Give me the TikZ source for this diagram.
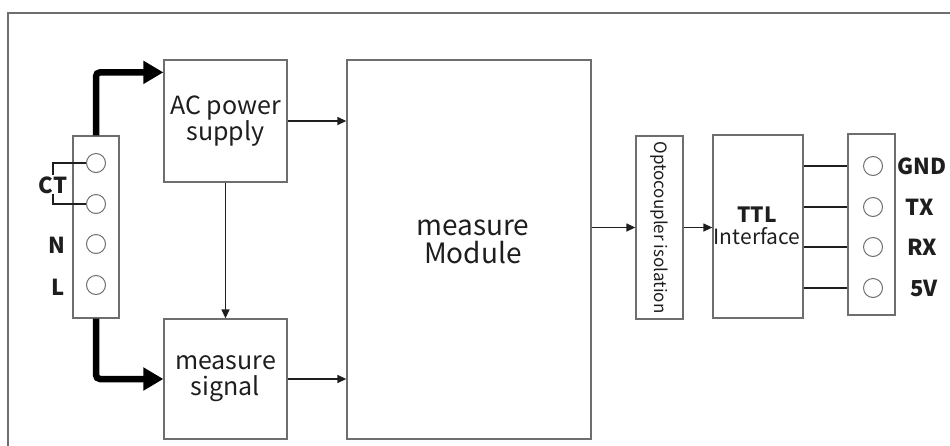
\documentclass[tikz,border=0pt]{standalone}
\usepackage{fontspec}
\setmainfont{Noto Sans CJK SC}
\usetikzlibrary{arrows.meta}
\definecolor{boxgray}{HTML}{6E6E6E}
\definecolor{ink}{HTML}{1E1E1E}
\begin{document}
\begin{tikzpicture}[x=1pt,y=-1pt,
  box/.style={draw=boxgray,line width=1.3pt,inner sep=0pt,align=center,text=ink},
  pin/.style={circle,draw=boxgray,line width=1pt,minimum size=19pt,inner sep=0pt},
  arr/.style={draw=ink,line width=1.3pt,-{Triangle[length=9pt,width=8pt]}},
  bigarr/.style={draw=black,line width=6.5pt,rounded corners=4pt,-{Triangle[length=20pt,width=22pt]}},
  wire/.style={draw=ink,line width=1.8pt},
  lab/.style={text=ink,inner sep=0pt,font=\fontsize{22}{24}\selectfont\bfseries}
]
\useasboundingbox (0,0) rectangle (950,445);
% outer frame
\draw[boxgray,line width=1.5pt] (8,450) -- (8,13) -- (955,13);

% boxes
\node[box,minimum width=123pt,minimum height=122pt,font=\fontsize{25}{26}\selectfont] (ac) at (225.5,121) {AC power\\supply};
\node[box,minimum width=123pt,minimum height=120pt,font=\fontsize{25}{26}\selectfont] (sig) at (225.5,379) {measure\\signal};
\node[box,minimum width=244pt,minimum height=379pt] (mod) at (469,249.5) {};
\node[text=ink,align=center,font=\fontsize{28}{28}\selectfont,inner sep=0pt] (modtxt) at (473,242) {measure\\Module};
\node[box,minimum width=47pt,minimum height=183pt] (opto) at (659.5,227.5) {};
\node[text=ink,rotate=-90,font=\fontsize{17}{19}\selectfont,inner sep=0pt] (optotxt) at (659.5,227.5) {Optocoupler isolation};
\node[box,minimum width=90pt,minimum height=183pt] (ttl) at (758,226.5) {};
\node[text=ink,align=center,inner sep=0pt,font=\fontsize{21}{22}\selectfont] (ttltxt) at (757,226) {{\bfseries TTL}\\{\fontsize{21}{22}\selectfont Interface}};
\node[box,minimum width=47pt,minimum height=181pt] (conn) at (871.5,224.5) {};
\node[box,minimum width=46pt,minimum height=182pt] (term) at (96,227) {};

% terminal pins
\node[pin] (c1) at (96,163) {};
\node[pin] (c2) at (96,204) {};
\node[pin] (c3) at (96,244) {};
\node[pin] (c4) at (96,285) {};
\node[lab] (ct) at (53,185) {CT};
\node[lab] (nl) at (57,245) {N};
\node[lab] (ll) at (58,287) {L};
\draw[ink,line width=1.2pt] (c1.west) -- (53,163) -- (53,175);
\draw[ink,line width=1.2pt] (c2.west) -- (53,204) -- (53,194);

% connector pins
\node[pin] (g1) at (873,166) {};
\node[pin] (g2) at (873,207) {};
\node[pin] (g3) at (873,247) {};
\node[pin] (g4) at (873,288) {};
\node[lab] (gnd) at (922,166) {GND};
\node[lab] (tx) at (920,207) {TX};
\node[lab] (rx) at (922,247) {RX};
\node[lab] (fv) at (924,288) {5V};
\draw[wire] (ttl.east |- g1) -- (conn.west |- g1);
\draw[wire] (ttl.east |- g2) -- (conn.west |- g2);
\draw[wire] (ttl.east |- g3) -- (conn.west |- g3);
\draw[wire] (ttl.east |- g4) -- (conn.west |- g4);

% arrows
\draw[arr] (ac.east) -- (ac.east -| mod.west);
\draw[arr] (sig.east) -- (sig.east -| mod.west);
\draw[arr] (ac.south) -- (sig.north);
\draw[arr] (mod.east |- opto.west) -- (opto.west);
\draw[arr] (opto.east) -- (opto.east -| ttl.west);
\draw[bigarr] (term.north) |- ([yshift=-13pt]ac.north west);
\draw[bigarr] (term.south) |- (sig.west);
\end{tikzpicture}
\end{document}
